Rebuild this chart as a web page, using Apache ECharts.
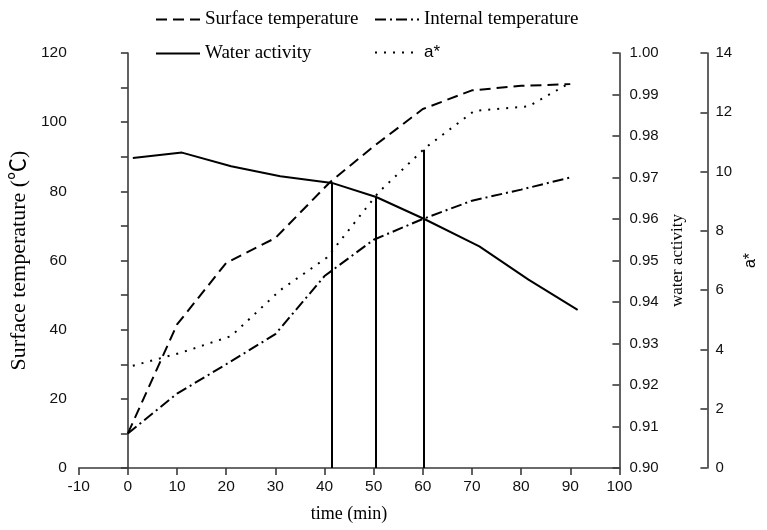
<!DOCTYPE html>
<html>
<head>
<meta charset="utf-8">
<script src="https://cdn.jsdelivr.net/npm/echarts@6/dist/echarts.min.js"></script>
<style>html,body{margin:0;padding:0;background:#fff}#c{width:767px;height:530px}</style>
</head>
<body>
<div id="c"></div>
<script>
// ---- data ----
const surfaceTime = [0, 10, 20, 30, 41, 50, 60, 70, 80, 90];
const surfaceTemp = [10, 41.5, 59.3, 66.5, 82.5, 93, 103.8, 109.2, 110.5, 111];
const internalTime = [0, 10, 20, 30, 40, 50, 60, 70, 80, 90];
const internalTemp = [10, 21.5, 30, 38.7, 55.5, 66, 72, 77.3, 80.5, 84];
const waTime = [1, 11, 21, 31, 41.5, 50.5, 60.3, 71.5, 81.5, 91.5];
const waterActivity = [0.9747, 0.976, 0.9727, 0.9703, 0.9687, 0.9653, 0.960, 0.9534, 0.9454, 0.9381];
const aTime = [1, 11, 21, 31, 40.5, 51, 60.5, 70.5, 81.5, 90];
const aStar = [3.45, 3.9, 4.45, 6.0, 7.1, 9.3, 10.8, 12.05, 12.2, 13.0];
const markerTime = [41.5, 50.4, 60.1];
const markerTop = [82.4, 78.4, 92.0];
const seriesNames = ['Surface temperature', 'Internal temperature', 'Water activity', 'a*'];

const zip = (xs, ys) => xs.map((x, i) => [x, ys[i]]);
const serif = 'Liberation Serif, Times New Roman, Noto Sans CJK SC, serif';
const sans = 'Liberation Sans, Arial, sans-serif';
const axisColor = '#3a3a3a';

const chart = echarts.init(document.getElementById('c'), null, {renderer: 'canvas'});
const baseLine = {color: '#000', width: 2, cap: 'butt'};
const legendCommon = {
  orient: 'vertical', top: 5, itemGap: 15, itemWidth: 44, itemHeight: 14,
  itemStyle: {color: 'rgba(0,0,0,0)', borderColor: 'rgba(0,0,0,0)', borderWidth: 0},
  lineStyle: {width: 2},
  textStyle: {fontFamily: serif, fontSize: 19, color: '#000',
              rich: {s: {fontFamily: sans, fontSize: 17, color: '#000'}}},
  formatter: n => n === 'a*' ? '{s|a*}' : n
};

chart.setOption({
  animation: false,
  backgroundColor: '#fff',
  grid: {left: 77, right: 130, top: 53, bottom: 62, containLabel: false},
  legend: [
    Object.assign({}, legendCommon, {data: [seriesNames[0], seriesNames[2]], left: 150}),
    Object.assign({}, legendCommon, {data: [seriesNames[1], seriesNames[3]], left: 369})
  ],
  xAxis: {
    type: 'value', min: -10, max: 100, interval: 10,
    name: 'time (min)', nameLocation: 'middle', nameGap: 37,
    nameTextStyle: {fontFamily: serif, fontSize: 18, color: '#000'},
    axisLine: {show: true, onZero: false, lineStyle: {color: axisColor, width: 1.6}},
    axisTick: {show: true, length: 7, lineStyle: {color: axisColor, width: 1.6}},
    axisLabel: {fontFamily: sans, fontSize: 15.5, color: '#111', margin: 11},
    splitLine: {show: false}
  },
  yAxis: [
    {
      type: 'value', position: 'left', min: 0, max: 120, interval: 10,
      name: 'Surface temperature (℃)', nameLocation: 'middle', nameGap: 44, nameRotate: 90,
      nameTextStyle: {fontFamily: serif, fontSize: 22, color: '#000'},
      axisLine: {show: true, lineStyle: {color: axisColor, width: 1.6}},
      axisTick: {show: true, length: 7, lineStyle: {color: axisColor, width: 1.6}},
      axisLabel: {fontFamily: sans, fontSize: 15.5, color: '#111', margin: 12,
                  formatter: v => (v % 20 === 0 ? String(v) : '')},
      splitLine: {show: false}
    },
    {
      type: 'value', position: 'right', min: 0.9, max: 1.0, interval: 0.01,
      name: 'water activity', nameLocation: 'middle', nameGap: 50, nameRotate: 90,
      nameTextStyle: {fontFamily: serif, fontSize: 17, color: '#000'},
      axisLine: {show: true, lineStyle: {color: axisColor, width: 1.6}},
      axisTick: {show: true, inside: true, length: 7, lineStyle: {color: axisColor, width: 1.6}},
      axisLabel: {fontFamily: sans, fontSize: 15, color: '#111', margin: 10, formatter: v => v.toFixed(2)},
      splitLine: {show: false}
    },
    {
      type: 'value', position: 'right', offset: 88, min: 0, max: 14, interval: 2,
      name: 'a*', nameLocation: 'middle', nameGap: 22, nameRotate: 90,
      nameTextStyle: {fontFamily: sans, fontSize: 16, color: '#000'},
      axisLine: {show: true, lineStyle: {color: axisColor, width: 1.6}},
      axisTick: {show: true, inside: true, length: 7, lineStyle: {color: axisColor, width: 1.6}},
      axisLabel: {fontFamily: sans, fontSize: 15, color: '#111', margin: 8},
      splitLine: {show: false}
    }
  ],
  series: [
    {
      name: seriesNames[0], type: 'line', yAxisIndex: 0, symbol: 'none',
      data: zip(surfaceTime, surfaceTemp),
      lineStyle: Object.assign({}, baseLine, {type: [11, 6]}),
      itemStyle: {color: '#000'},
      markLine: {
        silent: true, symbol: 'none', label: {show: false},
        lineStyle: {color: '#000', width: 2, type: 'solid'},
        data: markerTime.map((t, i) => [{coord: [t, 0]}, {coord: [t, markerTop[i]]}])
      }
    },
    {
      name: seriesNames[1], type: 'line', yAxisIndex: 0, symbol: 'none',
      data: zip(internalTime, internalTemp),
      lineStyle: Object.assign({}, baseLine, {type: [11, 4, 2, 4]}),
      itemStyle: {color: '#000'}
    },
    {
      name: seriesNames[2], type: 'line', yAxisIndex: 1, symbol: 'none',
      data: zip(waTime, waterActivity),
      lineStyle: Object.assign({}, baseLine, {type: 'solid'}),
      itemStyle: {color: '#000'}
    },
    {
      name: seriesNames[3], type: 'line', yAxisIndex: 2, symbol: 'none',
      data: zip(aTime, aStar),
      lineStyle: Object.assign({}, baseLine, {type: [2, 7]}),
      itemStyle: {color: '#000'}
    }
  ]
});
</script>
</body>
</html>
